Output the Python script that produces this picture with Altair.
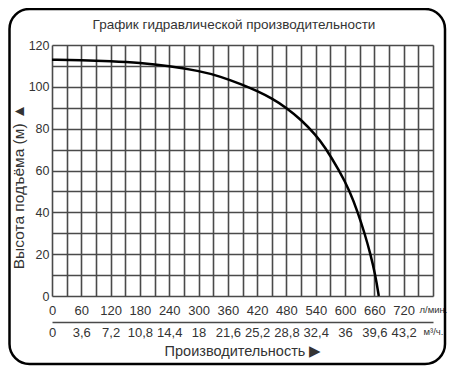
import altair as alt
import pandas as pd

# Performance curve
flow_lpm = [0, 60, 120, 180, 240, 300, 345, 390, 420, 450, 480, 510, 540, 558, 588, 610, 626, 640, 652, 662, 669]
head_m = [113, 112.8, 112.3, 111.5, 110, 107.7, 105, 101, 98, 94.5, 90, 84.3, 77, 71.5, 60, 50, 40, 30, 20, 10, 0]

# Axis ticks
grid_lpm = list(range(0, 781, 30))
grid_m = list(range(0, 121, 10))

title_text = "График гидравлической производительности"
y_title = "Высота подъёма (м) ▲"
x_title = "Производительность ▶"
unit_lpm = "л/мин."
unit_m3h = "м³/ч."

FONT = "Liberation Sans"
TXT = "#333333"
GRID = "#4a4a4a"

df = pd.DataFrame({"Q": flow_lpm, "H": head_m})

x_scale = alt.Scale(domain=[0, 780], nice=False, zero=False)
y_scale = alt.Scale(domain=[0, 120], nice=False)

curve = alt.Chart(df).mark_line(color="black", strokeWidth=2.5, interpolate="basis").encode(
    x=alt.X("Q:Q", scale=x_scale, axis=alt.Axis(
        values=grid_lpm, grid=True, gridColor=GRID, gridWidth=1.6, gridOpacity=1,
        ticks=False, domain=False, title=None,
        labelExpr=f"datum.value == 780 ? '{unit_lpm}' : (datum.value % 60 == 0 ? datum.label : '')",
        labelFont=FONT, labelColor=TXT,
        labelFontSize={"condition": {"test": "datum.value == 780", "value": 9.5}, "value": 13},
        labelPadding=8, labelFlush=False, labelOverlap=False, format="d")),
    y=alt.Y("H:Q", scale=y_scale, axis=alt.Axis(
        values=grid_m, grid=True, gridColor=GRID, gridWidth=1.6, gridOpacity=1,
        ticks=False, domain=False,
        labelExpr="datum.value % 20 == 0 ? datum.label : ''",
        labelFont=FONT, labelFontSize=12.5, labelColor=TXT, labelPadding=3,
        labelFlush=False, labelOverlap=False,
        title=y_title, titleFont=FONT, titleFontSize=15.5, titleFontWeight="normal",
        titleColor=TXT, titleY=141, titleX=-34, titleBaseline="middle")),
)

second = alt.Chart(df).mark_point(opacity=0).encode(
    x=alt.X("Q:Q", scale=x_scale, axis=alt.Axis(
        orient="bottom", offset=26, values=[v for v in grid_lpm if v % 60 == 0],
        grid=False, ticks=False, domain=True, domainColor=GRID, domainWidth=1.6,
        labelExpr=f"datum.value == 780 ? '{unit_m3h}' : replace(format(datum.value * 0.06, '.1~f'), '.', ',')",
        labelFont=FONT, labelColor=TXT,
        labelFontSize={"condition": {"test": "datum.value == 780", "value": 9.5}, "value": 13},
        labelPadding=4, labelFlush=False, labelOverlap=False,
        title=x_title, titleFont=FONT, titleFontSize=14.5, titleFontWeight="normal",
        titleColor=TXT, titlePadding=5)),
)

frame = alt.Chart(pd.DataFrame({"k": [0]})).mark_rect(
    filled=False, stroke="black", strokeWidth=2.5, cornerRadius=20, clip=False
).encode(
    x=alt.value(-42.5), x2=alt.value(393), y=alt.value(-36), y2=alt.value(319)
)

heading = alt.Chart(pd.DataFrame({"t": [title_text]})).mark_text(
    font=FONT, fontSize=13.5, color=TXT, align="center", baseline="middle", clip=False
).encode(
    text="t:N", x=alt.value(182), y=alt.value(-20)
)

chart = alt.layer(curve, second, frame, heading).resolve_scale(x="independent").properties(
    width=381, height=251,
    autosize=alt.AutoSizeParams(type="none"),
    padding={"left": 44, "top": 37, "right": 14, "bottom": 74},
).configure_view(stroke=GRID, strokeWidth=1.8).configure(background="white")

chart.save("out.html", embed_options={"renderer": "svg", "actions": False})
